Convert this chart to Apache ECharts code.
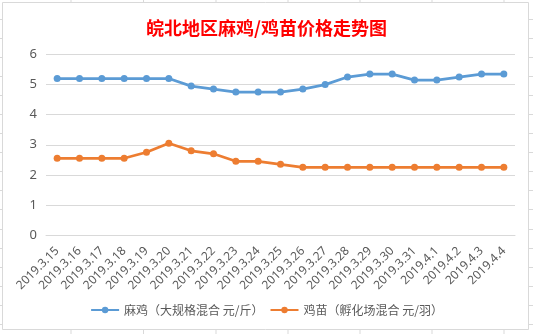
<!DOCTYPE html>
<html>
<head>
<meta charset="utf-8">
<script src="https://cdn.jsdelivr.net/npm/echarts@6/dist/echarts.min.js"></script>
<style>html,body{margin:0;padding:0;background:#fff;}#c{width:533px;height:334px;}</style>
</head>
<body>
<div id="c"></div>
<script>
const titleText = '皖北地区麻鸡/鸡苗价格走势图';
const categories = ['2019.3.15','2019.3.16','2019.3.17','2019.3.18','2019.3.19','2019.3.20','2019.3.21','2019.3.22','2019.3.23','2019.3.24','2019.3.25','2019.3.26','2019.3.27','2019.3.28','2019.3.29','2019.3.30','2019.3.31','2019.4.1','2019.4.2','2019.4.3','2019.4.4'];
const seriesNames = ['麻鸡（大规格混合 元/斤）', '鸡苗（孵化场混合 元/羽）'];
const maJi = [5.2,5.2,5.2,5.2,5.2,5.2,4.95,4.85,4.75,4.75,4.75,4.85,5.0,5.25,5.35,5.35,5.15,5.15,5.25,5.35,5.35];
const jiMiao = [2.55,2.55,2.55,2.55,2.75,3.05,2.8,2.7,2.45,2.45,2.35,2.25,2.25,2.25,2.25,2.25,2.25,2.25,2.25,2.25,2.25];
const yTicks = [0,1,2,3,4,5,6];

const chart = echarts.init(document.getElementById('c'), null, {renderer:'canvas'});

const gridColor = '#d9d9d9';
const deco = [];
deco.push({type:'rect', shape:{x:2.5,y:2.5,width:526,height:327}, style:{fill:'#fff', stroke:gridColor, lineWidth:1}, z:-10, silent:true});
[71,143.5,216,288,360,432,504].forEach(x=>{
  deco.push({type:'line', shape:{x1:x,y1:0,x2:x,y2:2}, style:{stroke:gridColor,lineWidth:1}, silent:true});
  deco.push({type:'line', shape:{x1:x,y1:330,x2:x,y2:334}, style:{stroke:gridColor,lineWidth:1}, silent:true});
});
for (let y=18.5; y<334; y+=19.1) {
  const yy = Math.round(y)+0.5;
  deco.push({type:'line', shape:{x1:0,y1:yy,x2:2,y2:yy}, style:{stroke:gridColor,lineWidth:1}, silent:true});
  deco.push({type:'line', shape:{x1:529,y1:yy,x2:533,y2:yy}, style:{stroke:gridColor,lineWidth:1}, silent:true});
}

const colors = ['#5B9BD5','#ED7D31'];
chart.setOption({
  animation:false,
  backgroundColor:'#fff',
  color: colors,
  graphic: deco,
  title:{
    text:titleText, left:'center', top:14,
    textStyle:{color:'#ff0000', fontSize:18, fontWeight:'bold', fontFamily:'Noto Sans CJK SC'}
  },
  legend:{
    data:seriesNames, bottom:13, left:'center', itemWidth:28, itemHeight:8, itemGap:6,
    textStyle:{color:'#595959', fontSize:12, fontFamily:'Noto Sans CJK SC'}
  },
  grid:{left:46, right:18, top:54.5, bottom:99, containLabel:false},
  xAxis:{
    type:'category', data:categories, boundaryGap:true,
    axisLine:{show:true, lineStyle:{color:gridColor}},
    axisTick:{show:false},
    axisLabel:{rotate:45, interval:0, margin:14, color:'#595959', fontSize:12, fontFamily:'Noto Sans'}
  },
  yAxis:{
    type:'value', min:yTicks[0], max:yTicks[yTicks.length-1], interval:1,
    axisLine:{show:false}, axisTick:{show:false},
    splitLine:{lineStyle:{color:gridColor}},
    axisLabel:{color:'#595959', fontSize:13, margin:9, fontFamily:'Noto Sans'}
  },
  series:[
    {name:seriesNames[0], type:'line', data:maJi, symbol:'circle', symbolSize:7, lineStyle:{width:2.75}},
    {name:seriesNames[1], type:'line', data:jiMiao, symbol:'circle', symbolSize:7, lineStyle:{width:2.75}}
  ]
});
</script>
</body>
</html>
